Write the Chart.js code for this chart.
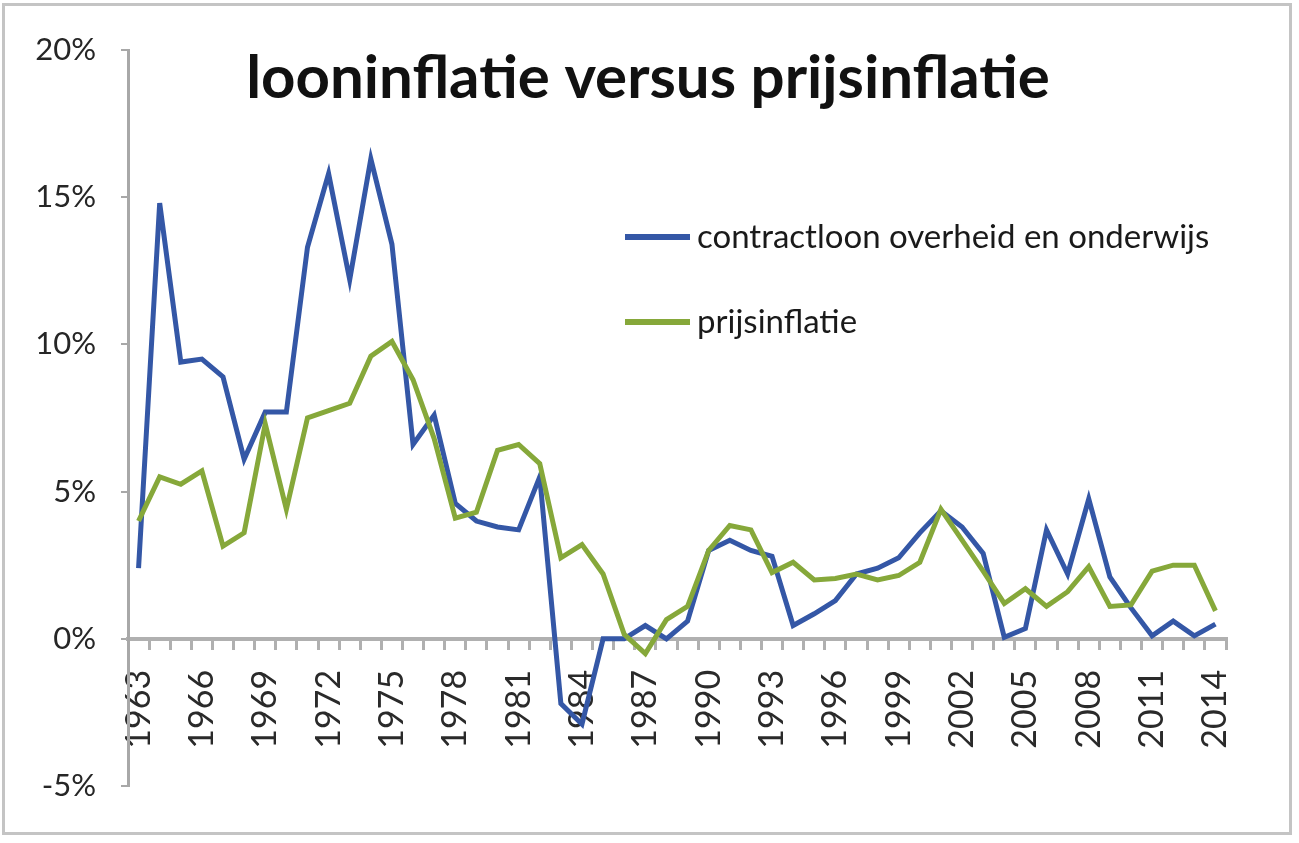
<!DOCTYPE html>
<html lang="nl">
<head>
<meta charset="utf-8">
<title>looninflatie versus prijsinflatie</title>
<script src="https://cdn.jsdelivr.net/npm/chart.js@4.4.1/dist/chart.umd.min.js"></script>
<style>
    html, body { margin: 0; padding: 0; background: #ffffff; }
    #frame {
        position: absolute; left: 2px; top: 3px;
        width: 1284px; height: 826px;
        border: 3px solid #c4c4c4;
    }
    #wrap { position: absolute; left: 0; top: 0; width: 1299px; height: 843px; }
</style>
</head>
<body>
<div id="frame"></div>
<div id="wrap"><canvas id="inflationChart"></canvas></div>
<script>
// Years on the category axis
const years = [
    '1963', '1964', '1965', '1966', '1967', '1968', '1969', '1970', '1971', '1972',
    '1973', '1974', '1975', '1976', '1977', '1978', '1979', '1980', '1981', '1982',
    '1983', '1984', '1985', '1986', '1987', '1988', '1989', '1990', '1991', '1992',
    '1993', '1994', '1995', '1996', '1997', '1998', '1999', '2000', '2001', '2002',
    '2003', '2004', '2005', '2006', '2007', '2008', '2009', '2010', '2011', '2012',
    '2013', '2014'
];

// contractloon overheid en onderwijs (%)
const contractloon = [
    2.4, 14.8, 9.4, 9.5, 8.9, 6.1, 7.7, 7.7, 13.3, 15.8,
    12.2, 16.3, 13.4, 6.6, 7.6, 4.6, 4.0, 3.8, 3.7, 5.5,
    -2.2, -2.9, 0.0, 0.0, 0.45, 0.0, 0.6, 3.0, 3.35, 3.0,
    2.8, 0.45, 0.85, 1.3, 2.2, 2.4, 2.75, 3.6, 4.35, 3.8,
    2.9, 0.05, 0.35, 3.7, 2.2, 4.75, 2.1, 1.05, 0.1, 0.6,
    0.1, 0.5
];

// prijsinflatie (%)
const prijsinflatie = [
    4.0, 5.5, 5.25, 5.7, 3.15, 3.6, 7.3, 4.4, 7.5, 7.75,
    8.0, 9.6, 10.1, 8.8, 6.8, 4.1, 4.3, 6.4, 6.6, 5.95,
    2.75, 3.2, 2.2, 0.15, -0.5, 0.65, 1.1, 3.0, 3.85, 3.7,
    2.25, 2.6, 2.0, 2.05, 2.2, 2.0, 2.15, 2.6, 4.4, 3.35,
    2.3, 1.2, 1.7, 1.1, 1.6, 2.45, 1.1, 1.15, 2.3, 2.5,
    2.5, 0.95
];

const yTicks = [-5, 0, 5, 10, 15, 20];
const seriesNames = ['contractloon overheid en onderwijs', 'prijsinflatie'];
const chartTitle = 'looninflatie versus prijsinflatie';

const BLUE = '#3457a6';
const GREEN = '#86a83a';
const AXIS_GREY = '#b0b0b0';

/**
 * Title and in-plot legend, drawn straight on the canvas
 */
const overlayPlugin = {
    id: 'overlay',
    afterDraw(chart) {
        const ctx = chart.ctx;
        ctx.save();

        // Title sits inside the plot, above the peaks
        ctx.fillStyle = '#111111';
        ctx.font = 'bold 60px Lato';
        ctx.textAlign = 'center';
        ctx.textBaseline = 'alphabetic';
        ctx.fillText(chartTitle, 648, 98);

        // Legend entries
        const rows = [
            { label: seriesNames[0], color: BLUE, y: 237 },
            { label: seriesNames[1], color: GREEN, y: 322 }
        ];
        ctx.font = '33px Lato';
        ctx.textAlign = 'left';
        ctx.textBaseline = 'middle';
        rows.forEach(row => {
            ctx.strokeStyle = row.color;
            ctx.lineWidth = 6;
            ctx.beginPath();
            ctx.moveTo(625, row.y);
            ctx.lineTo(690, row.y);
            ctx.stroke();
            ctx.fillStyle = '#1a1a1a';
            ctx.fillText(row.label, 697, row.y);
        });

        ctx.restore();
    }
};

const ctx = document.getElementById('inflationChart');
new Chart(ctx, {
    type: 'line',
    data: {
        labels: years,
        datasets: [
            {
                label: seriesNames[0],
                data: contractloon,
                borderColor: BLUE,
                borderWidth: 5,
                pointRadius: 0,
                tension: 0,
                order: 1
            },
            {
                label: seriesNames[1],
                data: prijsinflatie,
                borderColor: GREEN,
                borderWidth: 5,
                pointRadius: 0,
                tension: 0,
                order: 0
            }
        ]
    },
    options: {
        responsive: true,
        maintainAspectRatio: false,
        animation: false,
        layout: { padding: { top: 50, right: 73, bottom: 57, left: 0 } },
        plugins: {
            legend: { display: false },
            title: { display: false },
            tooltip: { enabled: false }
        },
        scales: {
            x: {
                type: 'category',
                position: { y: 0 },
                offset: true,
                border: { display: true, color: AXIS_GREY, width: 4 },
                grid: {
                    display: true,
                    offset: true,
                    drawOnChartArea: false,
                    drawTicks: true,
                    tickLength: 9,
                    color: AXIS_GREY,
                    lineWidth: 3
                },
                ticks: {
                    autoSkip: false,
                    maxRotation: 90,
                    minRotation: 90,
                    padding: 22,
                    color: '#2a2a2a',
                    font: { family: 'Lato', size: 34 },
                    callback: (value, index) => (index % 3 === 0 ? years[index] : '')
                },
                afterFit(scale) {
                    scale.paddingLeft = 0;
                    scale.paddingRight = 0;
                }
            },
            y: {
                min: yTicks[0],
                max: yTicks[yTicks.length - 1],
                border: { display: true, color: '#a8a8a8', width: 3 },
                grid: {
                    display: true,
                    drawOnChartArea: false,
                    drawTicks: true,
                    tickLength: 7,
                    color: '#a8a8a8',
                    lineWidth: 2
                },
                afterBuildTicks(scale) {
                    scale.ticks = yTicks.map(v => ({ value: v }));
                },
                ticks: {
                    padding: 25,
                    color: '#262626',
                    font: { family: 'Lato', size: 31 },
                    callback: value => value + '%'
                },
                afterFit(scale) {
                    scale.width = 128;
                    scale.paddingTop = 0;
                    scale.paddingBottom = 0;
                }
            }
        }
    },
    plugins: [overlayPlugin]
});
</script>
</body>
</html>
